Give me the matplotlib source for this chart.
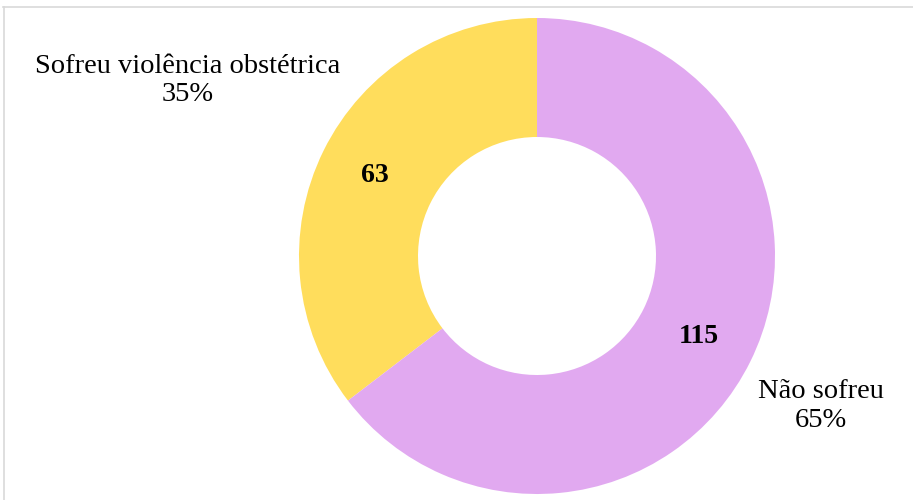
import numpy as np
import matplotlib.pyplot as plt
from matplotlib.lines import Line2D

# === Data ===
labels = ["Sofreu violência obstétrica", "Não sofreu"]
counts = [63, 115]
colors = ["#FFDD5C", "#E1A9F0"]

plt.rcParams['font.family'] = ['Liberation Serif', 'DejaVu Serif']

W, H = 913, 500
R = 238.0          # outer radius in px
cx, cy = 537, 244  # donut centre in px (from bottom-left)

fig = plt.figure(figsize=(W / 100, H / 100), dpi=100)
ax = fig.add_axes([0, 0, 1, 1])

total = sum(counts)
wedges, _, autotexts = ax.pie(
    counts, colors=colors, startangle=90, counterclock=True,
    wedgeprops=dict(width=0.5, edgecolor='none'),
    autopct=lambda p: f"{round(p * total / 100)}", pctdistance=0.76,
    textprops=dict(fontsize=20, fontweight='bold', color='black'))

ax.set_xlim(-cx / R, (W - cx) / R)
ax.set_ylim(-cy / R, (H - cy) / R)
ax.set_aspect('equal', adjustable='datalim')
ax.axis('off')

# outer category labels with share
pct = [c / total * 100 for c in counts]
label_pos = [(-1.466, 0.737), (1.193, -0.630)]
for lab, p, (x, y) in zip(labels, pct, label_pos):
    ax.text(x, y, f"{lab}\n{p:.0f}%", ha='center', va='center',
            fontsize=20.5, linespacing=1.2)

# light frame (only top and left edges visible)
fig.add_artist(Line2D([3 / W, 1], [1 - 6.5 / H, 1 - 6.5 / H],
                      transform=fig.transFigure, color='#D9D9D9', lw=1.2))
fig.add_artist(Line2D([3.5 / W, 3.5 / W], [0, 1 - 6.5 / H],
                      transform=fig.transFigure, color='#D9D9D9', lw=1.2))

fig.savefig("out.png", dpi=100)
